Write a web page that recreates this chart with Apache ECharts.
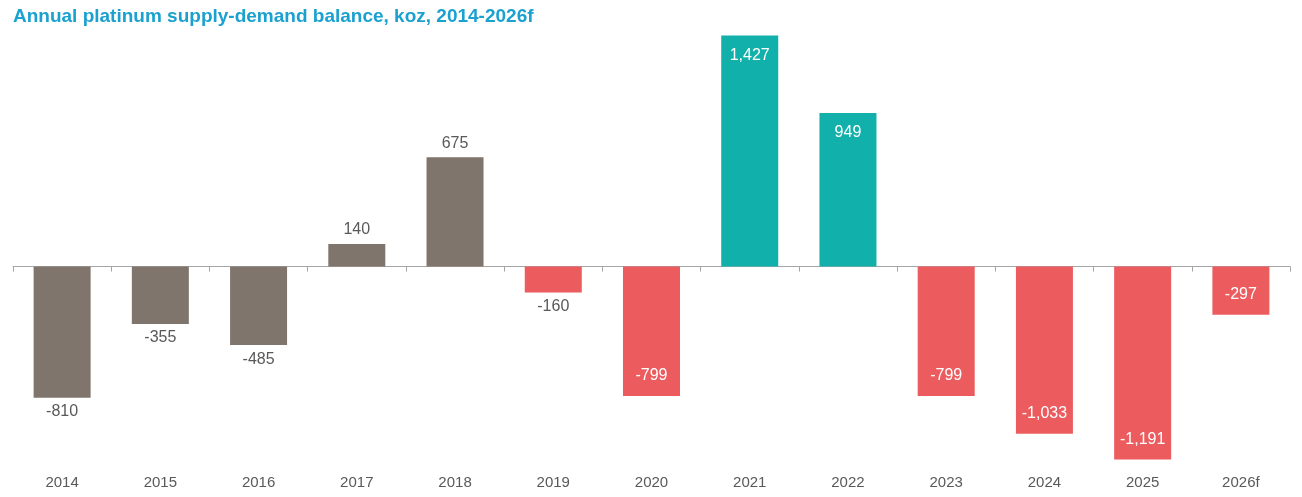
<!DOCTYPE html>
<html><head><meta charset="utf-8">
<script src="https://cdn.jsdelivr.net/npm/echarts@6/dist/echarts.min.js"></script>
<style>html,body{margin:0;padding:0;background:#fff}#c{width:1302px;height:497px}</style>
</head><body><div id="c"></div>
<script>
var years = ['2014','2015','2016','2017','2018','2019','2020','2021','2022','2023','2024','2025','2026f'];
var balance = [-810, -355, -485, 140, 675, -160, -799, 1427, 949, -799, -1033, -1191, -297];
// 0 = grey history, 1 = surplus, 2 = deficit
var group = [0, 0, 0, 0, 0, 2, 2, 1, 1, 2, 2, 2, 2];
var colors = ['#7f756c', '#12b0ab', '#ec5b5d'];

var chart = echarts.init(document.getElementById('c'));

var items = balance.map(function (v, i) {
  var g = group[i];
  var inside = g !== 0 && Math.abs(v) > 250;
  return {
    value: v,
    itemStyle: { color: colors[g] },
    label: {
      show: true,
      position: inside ? (v > 0 ? 'insideTop' : 'insideBottom') : (v > 0 ? 'top' : 'bottom'),
      distance: inside ? 12 : 6,
      color: inside ? '#fff' : '#595959',
      fontSize: 16,
      fontFamily: 'Liberation Sans, Arial',
      formatter: function (p) { return p.value.toLocaleString('en-US'); }
    }
  };
});

chart.setOption({
  animation: false,
  title: {
    text: 'Annual platinum supply-demand balance, koz, 2014-2026f',
    left: 8, top: 2,
    textStyle: { color: '#1ba1d0', fontSize: 19, fontWeight: 'bold', fontFamily: 'Liberation Sans, Arial' }
  },
  grid: { left: 13, right: 12, top: 35, bottom: 28 },
  xAxis: [{
    type: 'category', data: years,
    axisLine: { onZero: true, lineStyle: { color: '#a6a6a6', width: 1 } },
    axisTick: { show: true, length: 5, lineStyle: { color: '#a6a6a6' } },
    axisLabel: { show: false }
  }, {
    type: 'category', data: years, position: 'bottom',
    axisLine: { show: false }, axisTick: { show: false },
    axisLabel: { color: '#595959', fontSize: 15, fontFamily: 'Liberation Sans, Arial', margin: 6 }
  }],
  yAxis: { type: 'value', min: -1250, max: 1430, show: false, splitLine: { show: false } },
  series: [{
    type: 'bar', data: items, barWidth: 57, xAxisIndex: 0
  }]
});
</script></body></html>
